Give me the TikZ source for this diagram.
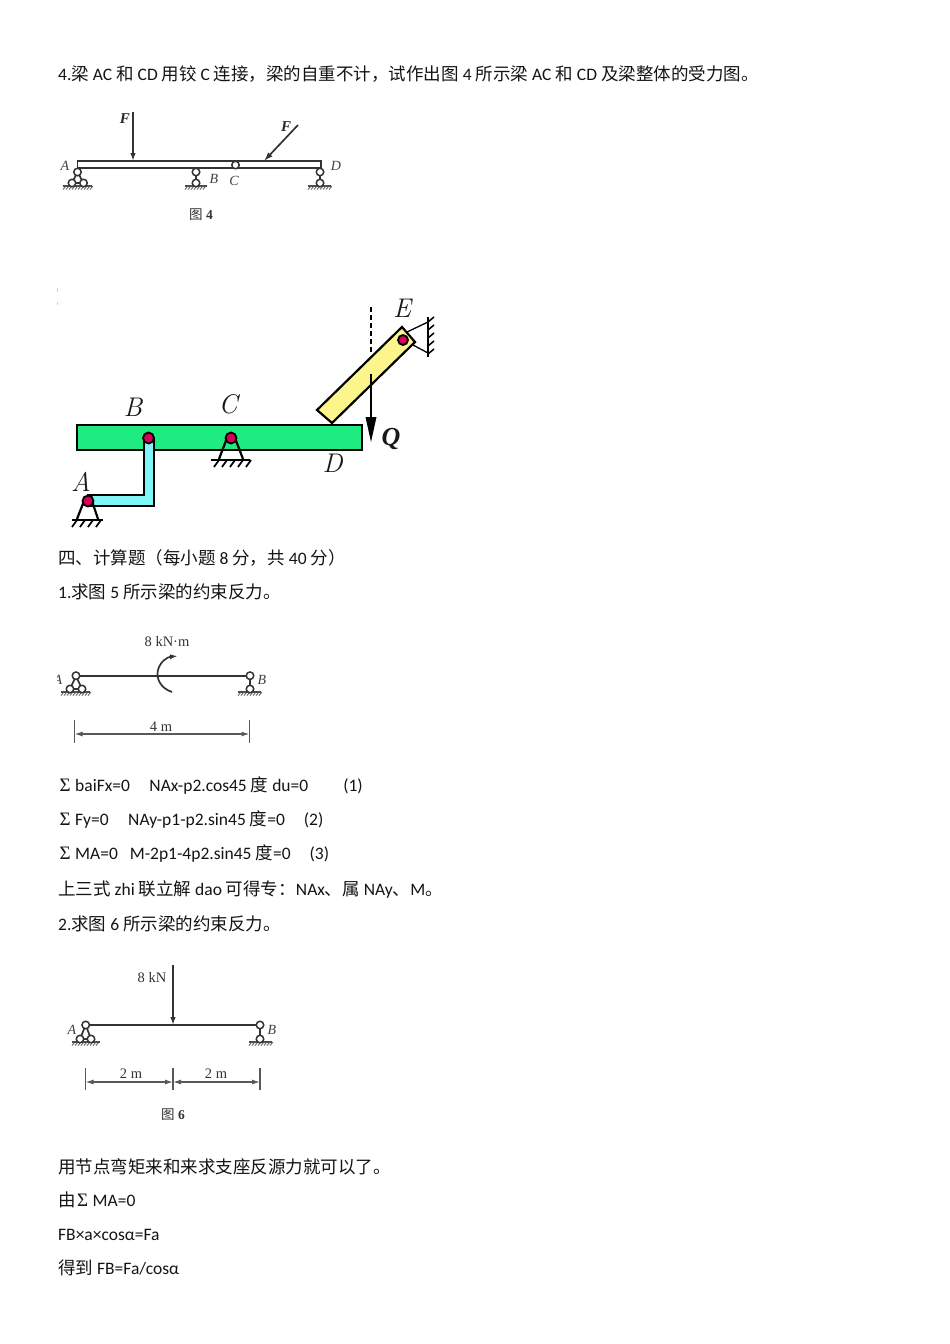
\documentclass[tikz,border=0pt]{standalone}
\usepackage{fontspec}
\setmainfont{Carlito}
\newfontfamily\cjk{Noto Sans CJK SC}
\newfontfamily\tms{Liberation Serif}
\newfontfamily\lmr{Latin Modern Roman}
\newcommand{\C}[1]{{\cjk #1}}
\newcommand{\Sg}{\makebox[17pt][l]{\hspace{1.5pt}{\tms\fontsize{19}{19}\selectfont Σ}}}
\usetikzlibrary{arrows.meta}
\definecolor{txt}{gray}{0.08}
\definecolor{bluegray}{gray}{0.25}
\definecolor{pinred}{HTML}{D6005A}
\definecolor{beamgreen}{HTML}{1EEB82}
\definecolor{armcyan}{HTML}{80F5F8}
\definecolor{baryellow}{HTML}{FBF58C}
\tikzset{
 line/.style={anchor=base west,inner sep=0,font=\fontsize{17.5}{18}\selectfont,text=txt},
 lab/.style={inner sep=0,text=bluegray,font=\tms\itshape\fontsize{14}{14}\selectfont},
 flab/.style={inner sep=0,text=black!85,font=\tms\bfseries\itshape\fontsize{15}{15}\selectfont},
 val/.style={inner sep=0,text=black!80,font=\tms\fontsize{14.5}{15}\selectfont},
 capn/.style={inner sep=0,text=black!80,font=\tms\fontsize{13.5}{14}\selectfont},
 big/.style={inner sep=0,text=black!90,font=\lmr\itshape\fontsize{27}{27}\selectfont},
 thinb/.style={draw=black!80,line width=1.7pt},
 hinge/.style={circle,draw=black!80,fill=white,line width=1.5pt,minimum size=7.5pt,inner sep=0},
 pinn/.style={circle,draw=black,fill=pinred,line width=1.8pt,minimum size=11pt,inner sep=0},
 heavy/.style={draw=black,line width=2.2pt},
 dimn/.style={draw=black!65,line width=1.2pt},
 dimarrow/.style={dimn,{Latex[length=8pt,width=5pt]}-{Latex[length=8pt,width=5pt]}},
}
\newcommand{\grd}[3]{%
 \draw[black!70,line width=1.2pt] (#1,#3) -- (#2,#3);
 \foreach \hx in {0,3,...,28}{\pgfmathsetmacro{\hh}{#1+\hx}\pgfmathparse{\hh+1<#2?1:0}
  \ifnum\pgfmathresult=1 \draw[black!65,line width=.8pt] (\hh+3,#3) -- (\hh,#3+3.5);\fi}}
\begin{document}
\begin{tikzpicture}[x=1pt,y=-1pt]
\useasboundingbox[fill=white] (0,0) rectangle (950,1344);
% text
\node[line] (t1) at (58,80) {4.\C{梁} AC \C{和} CD \C{用铰} C \C{连接，梁的自重不计，试作出图} 4 \C{所示梁} AC \C{和} CD \C{及梁整体的受力图。}};
\node[line] (t2) at (58,564) {\C{四、计算题（每小题} 8 \C{分，共} 40 \C{分）}};
\node[line] (t3) at (58,598) {1.\C{求图} 5 \C{所示梁的约束反力。}};
\node[line] (t4) at (58,791) {\Sg baiFx=0\hspace{19.5pt}NAx-p2.cos45 \C{度} du=0\hspace{35pt}(1)};
\node[line] (t5) at (58,825.5) {\Sg Fy=0\hspace{19.5pt}NAy-p1-p2.sin45 \C{度}=0\hspace{19pt}(2)};
\node[line] (t6) at (58,859.5) {\Sg MA=0\hspace{12pt}M-2p1-4p2.sin45 \C{度}=0\hspace{19pt}(3)};
\node[line] (t7) at (58,895) {\C{上三式} zhi \C{联立解} dao \C{可得专：}NAx\C{、属} NAy\C{、}M\C{。}};
\node[line] (t8) at (58,930) {2.\C{求图} 6 \C{所示梁的约束反力。}};
\node[line] (t9) at (58,1173) {\C{用节点弯矩来和来求支座反源力就可以了。}};
\node[line] (t10) at (58,1206) {\C{由}\Sg MA=0};
\node[line] (t11) at (58,1240) {FB×a×cosα=Fa};
\node[line] (t12) at (58,1274) {\C{得到} FB=Fa/cosα};
% ---------- figure 4
\draw[thinb] (77.5,161) rectangle (321,168);
\node[hinge] (c4) at (235.5,165) {};
\draw[thinb,-{Latex[length=8pt,width=5.5pt]}] (133,112) -- (133,161);
\coordinate (f2s) at (298,125); \coordinate (f2e) at (264,161);
\draw[thinb,-{Latex[length=9pt,width=6pt]}] (f2s) -- (f2e);
\node[flab] (f1) at (125,119) {F};
\node[flab] (f2) at (286,127) {F};
\grd{63}{92}{186}
\draw[thinb] (77.5,172) -- (72,183) (77.5,172) -- (83.5,183) (72,183)--(83.5,183);
\node[hinge] (a41) at (77.5,172) {};
\node[hinge] (a42) at (72,183) {};
\node[hinge] (a43) at (83.5,183) {};
\grd{185}{207}{186}
\draw[thinb] (196,172) -- (196,183);
\node[hinge] (b41) at (196,172) {};
\node[hinge] (b42) at (196,183) {};
\grd{308}{331}{186}
\draw[thinb] (320,172) -- (320,183);
\node[hinge] (d41) at (320,172) {};
\node[hinge] (d42) at (320,183) {};
\node[lab] (la) at (65,166) {A};
\node[lab] (lb) at (214,179) {B};
\node[lab] (lc) at (234,181) {C};
\node[lab] (ld) at (336,166) {D};
\node[capn] (cap4) at (201,214.5) {\C{图} \textbf{4}};
% ---------- big figure
\draw[draw=yellow!50!brown!70,line width=.5pt] (57.5,288) -- (57.5,292) (57.5,302) -- (57.5,305);
\draw[heavy,fill=baryellow] (402,327) -- (415,342) -- (332,423) -- (317,410) -- cycle;
\draw[heavy,fill=beamgreen] (77,425) rectangle (362,450);
\draw[black,line width=1.3pt,dash pattern=on 5pt off 3pt] (371,307) -- (371,352);
\draw[black,line width=1.5pt] (371,374) -- (371,418);
\fill[black] (365.5,417) -- (376.5,417) -- (371,442) -- cycle;
% wall at E
\draw[heavy] (428,317) -- (428,357);
\foreach \wy in {322,330,338,346,354} \draw[black,line width=1.5pt] (428,\wy) -- (434,\wy-5);
\draw[black,line width=1.3pt] (407,332) -- (428,322) (413,345) -- (428,353);
\node[pinn,minimum size=10pt] (pe) at (403,340) {};
% cyan arm
\draw[draw=black,line width=2pt,fill=armcyan] (143.5,438) -- (143.5,495) -- (88,495) -- (88,506) -- (153.5,506) -- (153.5,438) -- cycle;
% supports
\draw[heavy] (84,501) -- (77,519) (92,501) -- (98,519);
\draw[heavy] (72,520) -- (103,520);
\foreach \hx in {77,85,93,101} \draw[black,line width=1.7pt] (\hx,520) -- (\hx-5,527);
\draw[heavy] (227,438) -- (219,459) (235,438) -- (243,459);
\draw[heavy] (211,460) -- (250,460);
\foreach \hx in {219,227,235,243,251} \draw[black,line width=1.7pt] (\hx,460) -- (\hx-5,467);
\node[pinn] (pa) at (88,501) {};
\node[pinn] (pb) at (148.5,438) {};
\node[pinn] (pc) at (231,438) {};
\node[big] (bA) at (81,482) {A};
\node[big] (bB) at (133,407) {B};
\node[big] (bC) at (228,404) {C};
\node[big] (bD) at (332.5,463) {D};
\node[big] (bE) at (402,308) {E};
\node[big,font=\tms\bfseries\itshape\fontsize{26}{26}\selectfont] (bQ) at (391,439) {Q};
% ---------- figure 5
\draw[thinb] (76,675.7) -- (250,675.7);
\coordinate (m1) at (178,656); \coordinate (m2) at (172,692);
\draw[thinb,-{Latex[length=8pt,width=5pt]}] (m2) .. controls (160,688) and (156,678) .. (158,670) .. controls (160,662) and (167,657) .. (m1);
\grd{61}{90}{692}
\draw[thinb] (76,676) -- (70,689) (76,676) -- (82,689) (70,689) -- (82,689);
\node[hinge] (a51) at (76,675.7) {};
\node[hinge] (a52) at (70,689) {};
\node[hinge] (a53) at (82,689) {};
\grd{238}{261}{692}
\draw[thinb] (250,676) -- (250,689);
\node[hinge] (b51) at (250,675.7) {};
\node[hinge] (b52) at (250,689) {};
\begin{scope}
\clip (57,660) rectangle (70,700);
\node[lab] (a5) at (58,680) {A};
\end{scope}
\node[lab] (b5) at (262,680) {B};
\node[val] (m5) at (167,641.5) {8 kN·m};
\draw[dimn] (74.5,720) -- (74.5,743);
\draw[dimn] (249.5,720) -- (249.5,743);
\draw[dimarrow] (74.5,734) -- (249.5,734);
\node[val] (d5) at (161,726.5) {4 m};
% ---------- figure 6
\draw[thinb] (85.7,1025) -- (260,1025);
\draw[thinb,-{Latex[length=8pt,width=5.5pt]}] (173,965) -- (173,1025);
\grd{72}{100}{1042}
\draw[thinb] (85.7,1025) -- (80,1039) (85.7,1025) -- (91,1039) (80,1039) -- (91,1039);
\node[hinge] (a61) at (85.7,1025) {};
\node[hinge] (a62) at (80,1039) {};
\node[hinge] (a63) at (91,1039) {};
\grd{249}{272}{1042}
\draw[thinb] (260,1025) -- (260,1039);
\node[hinge] (b61) at (260,1025) {};
\node[hinge] (b62) at (260,1039) {};
\node[lab] (a6) at (72,1030) {A};
\node[lab] (b6) at (272,1030) {B};
\node[val] (f6) at (152,977.5) {8 kN};
\foreach \dx in {85.5,173,260} \draw[dimn] (\dx,1068) -- (\dx,1090);
\draw[dimarrow] (85.5,1082) -- (173,1082);
\draw[dimarrow] (173,1082) -- (260,1082);
\node[val] (d61) at (131,1073.5) {2 m};
\node[val] (d62) at (216,1073.5) {2 m};
\node[capn] (cap6) at (173,1114.5) {\C{图} \textbf{6}};
\end{tikzpicture}
\end{document}
